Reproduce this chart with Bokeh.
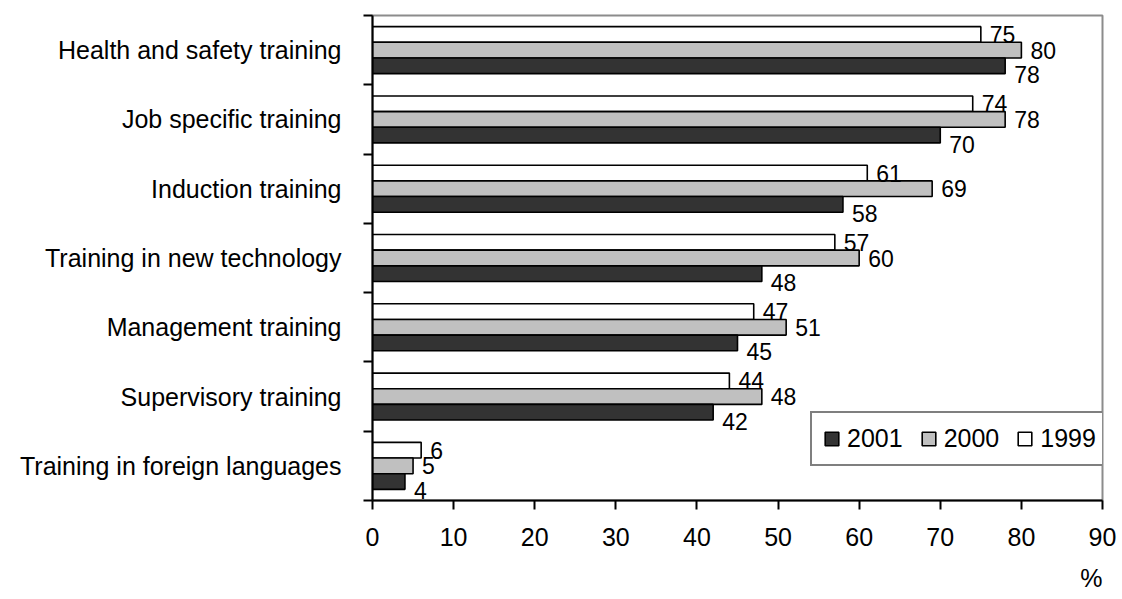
from bokeh.plotting import figure
from bokeh.models import (Range1d, FixedTicker, ColumnDataSource, Legend, LegendItem,
                          Title, LinearAxis)
from bokeh.transform import dodge
from bokeh.embed import file_html
from bokeh.resources import INLINE
from bokeh.core.properties import value

categories = ["Health and safety training", "Job specific training", "Induction training",
              "Training in new technology", "Management training", "Supervisory training",
              "Training in foreign languages"]
v2001 = [78, 70, 58, 48, 45, 42, 4]
v2000 = [80, 78, 69, 60, 51, 48, 5]
v1999 = [75, 74, 61, 57, 47, 44, 6]
x_ticks = [0, 10, 20, 30, 40, 50, 60, 70, 80, 90]
x_unit = "%"

n = len(categories)
ypos = [n - 0.5 - i for i in range(n)]
src = ColumnDataSource(dict(
    y=ypos, cat=categories,
    v2001=v2001, v2000=v2000, v1999=v1999,
    t2001=[str(v) for v in v2001], t2000=[str(v) for v in v2000], t1999=[str(v) for v in v1999],
))

FONT = "Liberation Sans"
W, H = 1122, 599
p = figure(width=W, height=H, output_backend="svg", toolbar_location=None,
           x_range=Range1d(0, 90), y_range=Range1d(0, n),
           x_axis_type=None, y_axis_type=None,
           min_border_left=372, min_border_right=20, min_border_top=15, min_border_bottom=99)
p.background_fill_color = "white"
p.border_fill_color = "white"
p.outline_line_color = "#8c8c8c"
p.outline_line_width = 2
p.xgrid.visible = False
p.ygrid.visible = False

# x axis
xa = LinearAxis(ticker=FixedTicker(ticks=x_ticks, minor_ticks=[]))
xa.axis_line_color = "black"
xa.axis_line_width = 2
xa.major_tick_line_color = "black"
xa.major_tick_line_width = 2
xa.major_tick_in = 0
xa.major_tick_out = 9
xa.minor_tick_line_color = None
xa.major_label_text_font = FONT
xa.major_label_text_font_size = "25px"
xa.major_label_text_color = "black"
xa.major_label_standoff = 18
p.add_layout(xa, "below")

# unit label under the x axis, right-aligned with the plot frame
p.add_layout(Title(text=x_unit, align="right", text_font=FONT,
                   text_font_size="25px", text_font_style="normal", text_color="black",
                   standoff=0, offset=0,
                   padding=dict(left=0, right=0, top=13, bottom=0)), "below")

# y axis: labels at category centres, ticks at category boundaries
ya = LinearAxis(ticker=FixedTicker(ticks=ypos, minor_ticks=list(range(n + 1))))
ya.major_label_overrides = {float(y): c for y, c in zip(ypos, categories)}
ya.axis_line_color = "black"
ya.axis_line_width = 2
ya.major_tick_line_color = None
ya.major_tick_in = 0
ya.major_tick_out = 0
ya.minor_tick_line_color = "black"
ya.minor_tick_line_width = 2
ya.minor_tick_in = 0
ya.minor_tick_out = 9
ya.major_label_text_font = FONT
ya.major_label_text_font_size = "25px"
ya.major_label_text_color = "black"
ya.major_label_standoff = 22
p.add_layout(ya, "left")

bh = 0.226
r1999 = p.hbar(y=dodge("y", bh, range=p.y_range), right="v1999", left=0, height=bh,
               source=src, fill_color="white", line_color="black", line_width=1.6)
r2000 = p.hbar(y=dodge("y", 0, range=p.y_range), right="v2000", left=0, height=bh,
               source=src, fill_color="#c0c0c0", line_color="black", line_width=1.6)
r2001 = p.hbar(y=dodge("y", -bh, range=p.y_range), right="v2001", left=0, height=bh,
               source=src, fill_color="#333333", line_color="black", line_width=1.6)

common = dict(source=src, x_offset=9, text_baseline="middle", text_align="left",
              text_font=value(FONT), text_font_size="23px", text_color="black")
p.text(x="v1999", y=dodge("y", bh, range=p.y_range), text="t1999", **common)
p.text(x="v2000", y=dodge("y", 0, range=p.y_range), text="t2000", **common)
p.text(x="v2001", y=dodge("y", -bh, range=p.y_range), text="t2001", y_offset=9, **common)

legend = Legend(items=[LegendItem(label="2001", renderers=[r2001]),
                       LegendItem(label="2000", renderers=[r2000]),
                       LegendItem(label="1999", renderers=[r1999])],
                orientation="horizontal", location=(438, 34))
legend.glyph_width = 17
legend.glyph_height = 17
legend.label_standoff = 7
legend.spacing = 17
legend.padding = 11
legend.margin = 0
legend.border_line_color = "black"
legend.border_line_width = 2
legend.background_fill_color = "white"
legend.background_fill_alpha = 1
legend.label_text_font = FONT
legend.label_text_font_size = "25px"
legend.label_text_color = "black"
p.add_layout(legend, "center")

open("out.html", "w").write(file_html(p, INLINE))
